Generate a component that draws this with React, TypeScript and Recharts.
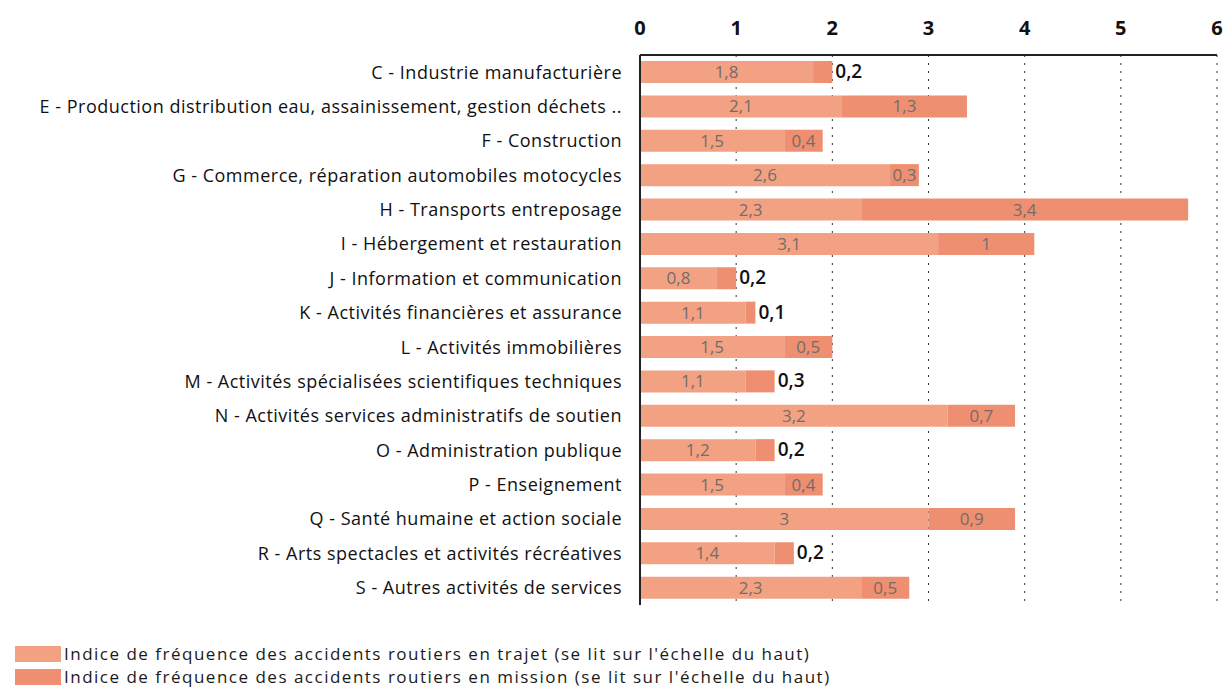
import { Bar, BarChart, CartesianGrid, Legend, LabelList, XAxis, YAxis } from "recharts"

const categories = [
  "C - Industrie manufacturière",
  "E - Production distribution eau, assainissement, gestion déchets ..",
  "F - Construction",
  "G - Commerce, réparation automobiles motocycles",
  "H - Transports entreposage",
  "I - Hébergement et restauration",
  "J - Information et communication",
  "K - Activités financières et assurance",
  "L - Activités immobilières",
  "M - Activités spécialisées scientifiques techniques",
  "N - Activités services administratifs de soutien",
  "O - Administration publique",
  "P - Enseignement",
  "Q - Santé humaine et action sociale",
  "R - Arts spectacles et activités récréatives",
  "S - Autres activités de services",
];

const trajet = [1.8, 2.1, 1.5, 2.6, 2.3, 3.1, 0.8, 1.1, 1.5, 1.1, 3.2, 1.2, 1.5, 3, 1.4, 2.3];
const mission = [0.2, 1.3, 0.4, 0.3, 3.4, 1, 0.2, 0.1, 0.5, 0.3, 0.7, 0.2, 0.4, 0.9, 0.2, 0.5];
const xTicks = [0, 1, 2, 3, 4, 5, 6];

const seriesNames = [
  "Indice de fréquence des accidents routiers en trajet (se lit sur l'échelle du haut)",
  "Indice de fréquence des accidents routiers en mission (se lit sur l'échelle du haut)",
];

const COLOR_TRAJET = "#F2A283";
const COLOR_MISSION = "#EE8F72";
const FONT = "'Open Sans', sans-serif";

const data = categories.map((name, i) => ({
  name,
  trajet: trajet[i],
  mission: mission[i],
  total: trajet[i] + mission[i],
}));

const fmt = (v: number) => String(v).replace(".", ",");

const InsideLabel = (props: any) => {
  const { x, y, width, height, value } = props;
  return (
    <text
      x={x + width / 2}
      y={y + height / 2}
      dy={6}
      textAnchor="middle"
      fontSize={17}
      fill="#756c66"
      fontFamily={FONT}
    >
      {fmt(value)}
    </text>
  );
};

// small mission values sit to the right of the bar in black
const MissionLabel = (props: any) => {
  const { x, y, width, height, value, index } = props;
  const outside = value <= 0.3 && data[index].total < 2.5;
  if (outside) {
    return (
      <text
        x={x + width + 3}
        y={y + height / 2}
        dy={6}
        textAnchor="start"
        fontSize={19}
        fontWeight={600}
        fill="#111"
        fontFamily={FONT}
      >
        {fmt(value)}
      </text>
    );
  }
  return <InsideLabel {...props} />;
};

const CustomLegend = () => (
  <div
    style={{
      fontFamily: FONT,
      fontSize: 17,
      fontWeight: 500,
      letterSpacing: 1.5,
      color: "#1a1a1a",
      paddingLeft: 15,
      height: 85,
      display: "flex",
      flexDirection: "column",
      justifyContent: "flex-end",
      boxSizing: "border-box",
      paddingBottom: 2,
    }}
  >
    {seriesNames.map((n, i) => (
      <div key={n} style={{ display: "flex", alignItems: "center", height: 23 }}>
        <span
          style={{
            display: "inline-block",
            width: 46,
            height: 16,
            marginRight: 3,
            background: i === 0 ? COLOR_TRAJET : COLOR_MISSION,
          }}
        />
        {n}
      </div>
    ))}
  </div>
);

export default function App() {
  return (
    <div style={{ position: "absolute", left: 0, top: 0, background: "#fff" }}>
      <BarChart
        width={1231}
        height={692}
        data={data}
        layout="vertical"
        margin={{ top: 20, right: 14, bottom: 2, left: 0 }}
        barSize={22}
      >
        <CartesianGrid horizontal={false} stroke="#333" strokeDasharray="2 6" />
        <XAxis
          type="number"
          orientation="top"
          domain={[0, 6]}
          ticks={xTicks}
          height={35}
          tickLine={false}
          axisLine={{ stroke: "#222", strokeWidth: 2 }}
          tick={{ fontSize: 20, fontWeight: 700, fill: "#111", fontFamily: FONT }}
          tickMargin={14}
        />
        <YAxis
          type="category"
          dataKey="name"
          width={640}
          tickLine={false}
          axisLine={{ stroke: "#222", strokeWidth: 2 }}
          tick={{ fontSize: 18, fontWeight: 500, fill: "#111", fontFamily: FONT, letterSpacing: 0.5 }}
          tickMargin={12}
          interval={0}
        />
        <Legend
          verticalAlign="bottom"
          align="left"
          height={85}
          content={<CustomLegend />}
        />
        <Bar dataKey="trajet" stackId="a" fill={COLOR_TRAJET} isAnimationActive={false}>
          <LabelList dataKey="trajet" content={<InsideLabel />} />
        </Bar>
        <Bar dataKey="mission" stackId="a" fill={COLOR_MISSION} isAnimationActive={false}>
          <LabelList dataKey="mission" content={<MissionLabel />} />
        </Bar>
      </BarChart>
    </div>
  );
}
